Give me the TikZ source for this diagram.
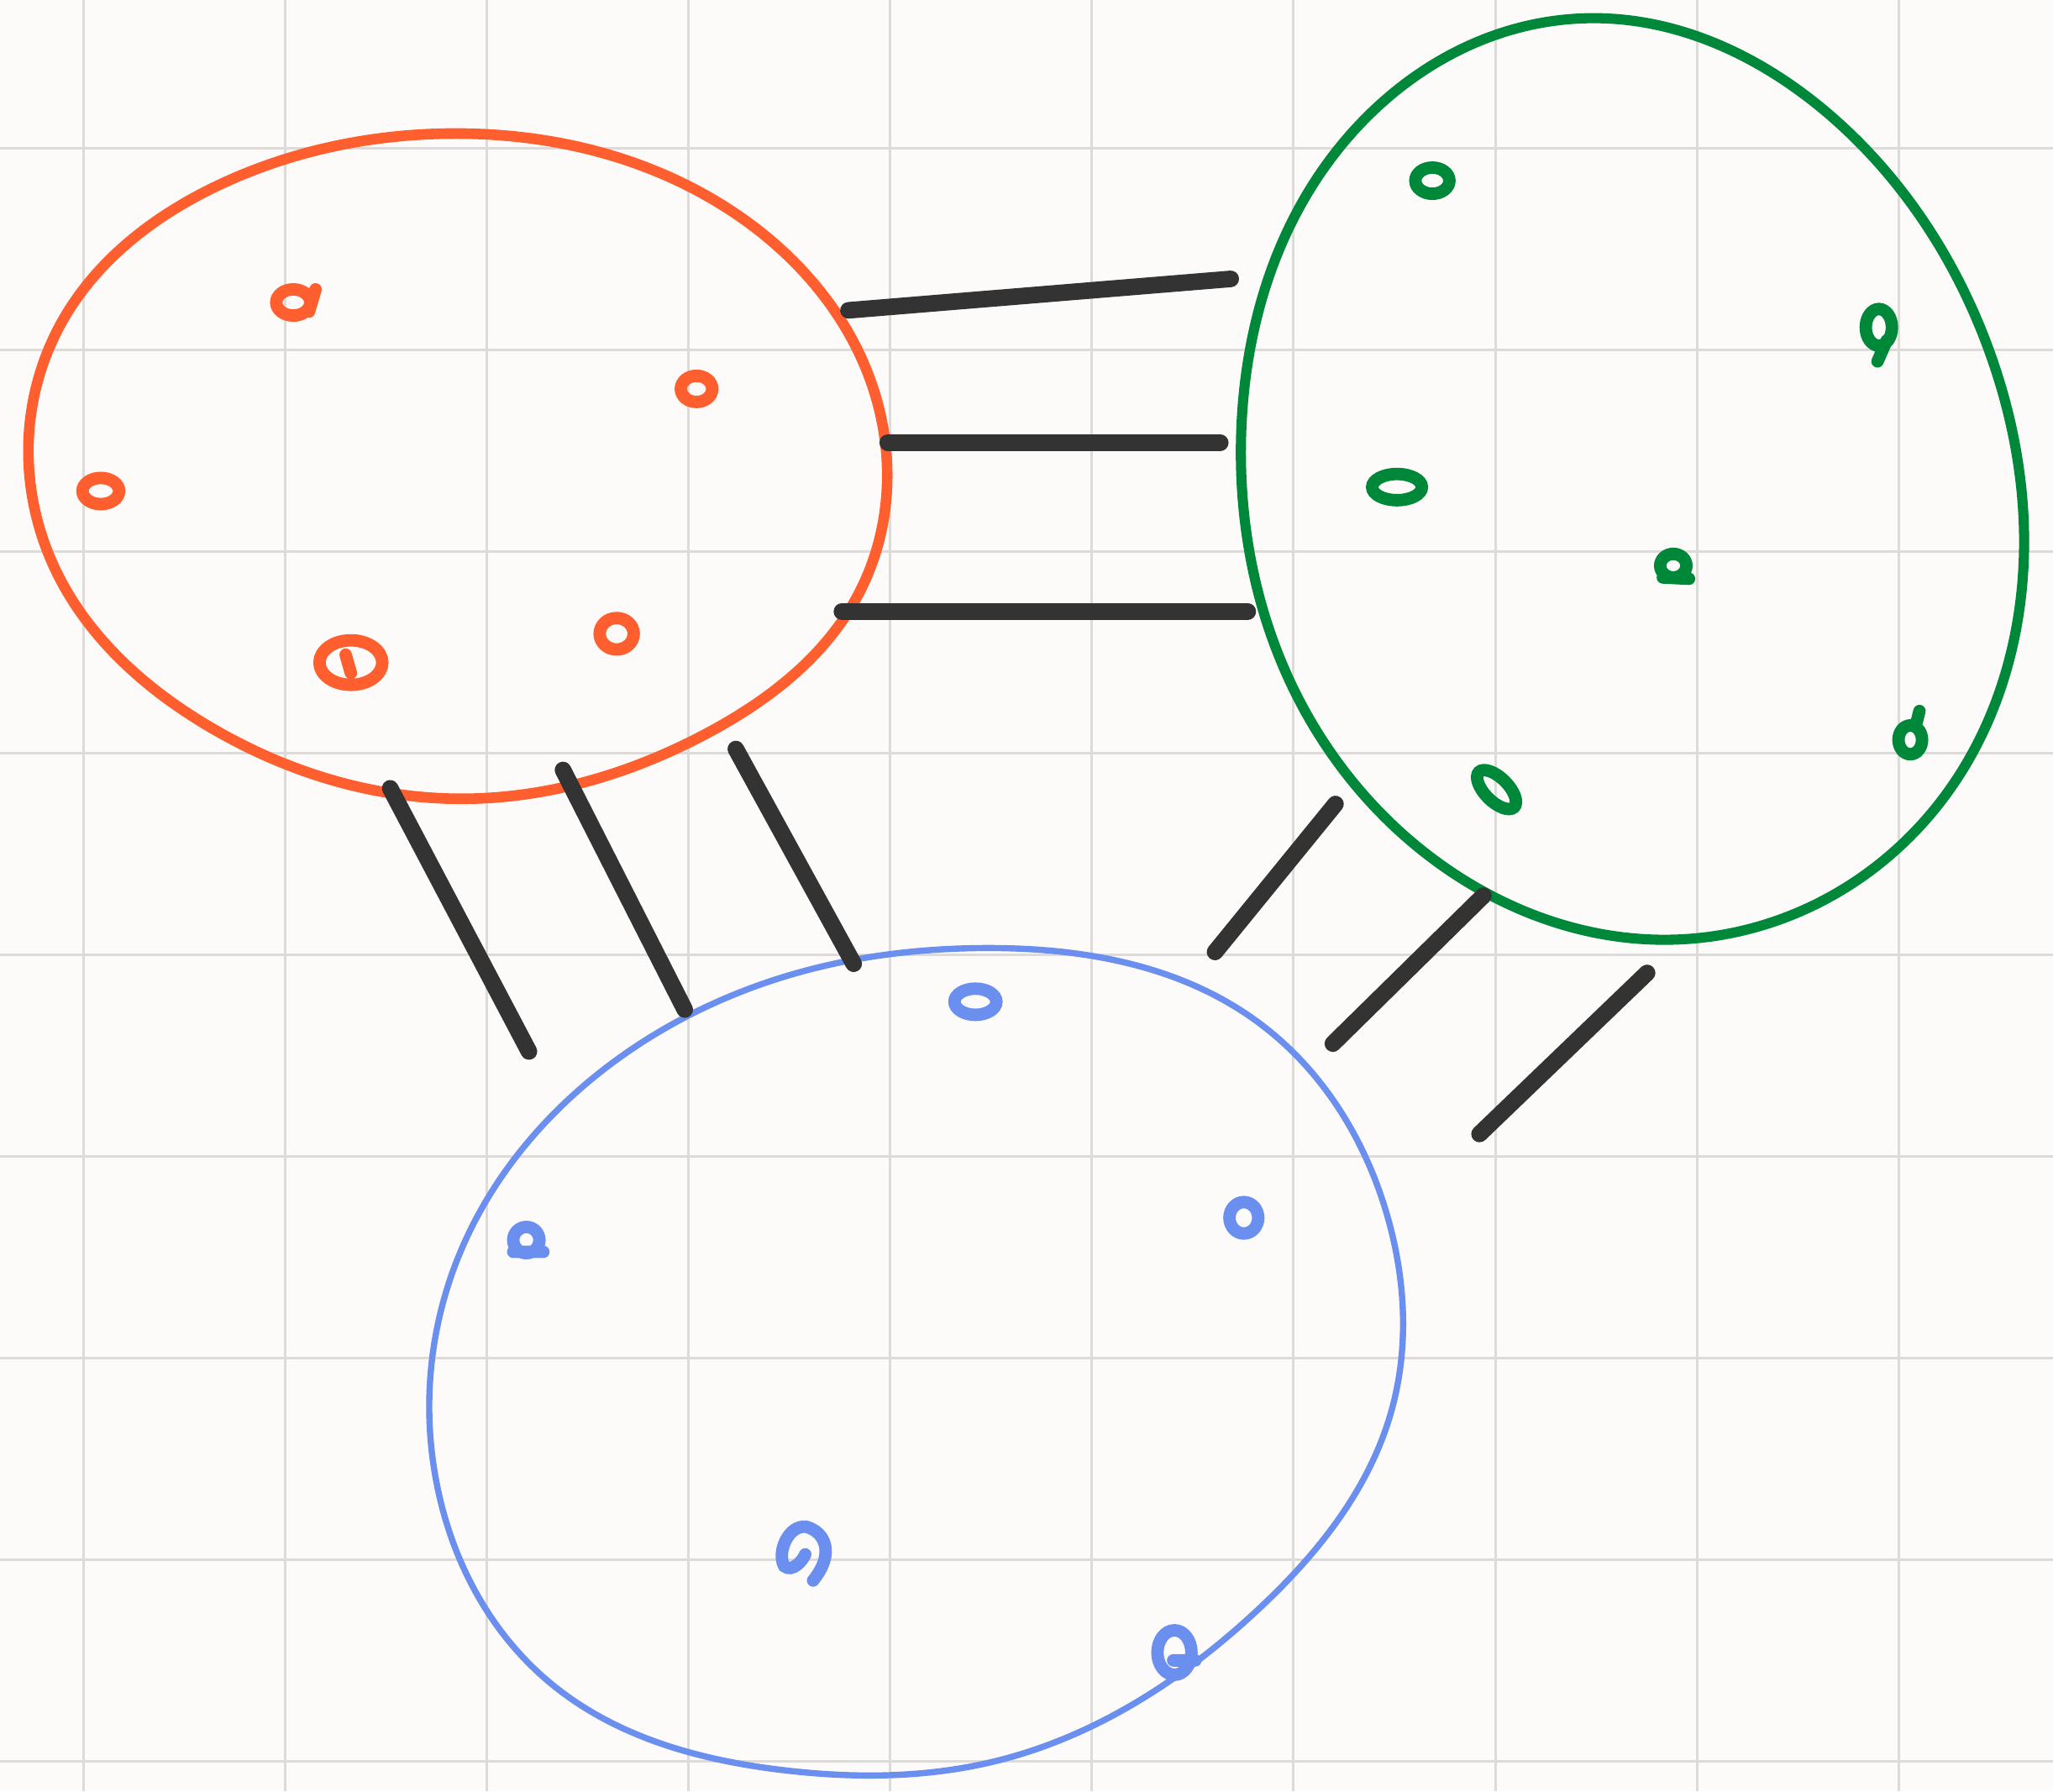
\documentclass[tikz,border=0pt]{standalone}
\usepackage{tikz}
\usetikzlibrary{positioning,calc,hobby}

\definecolor{paper}{HTML}{FDFBF9}
\definecolor{gridgray}{HTML}{DDDAD7}
\definecolor{setorange}{HTML}{FF5F2E}
\definecolor{setgreen}{HTML}{00883A}
\definecolor{setblue}{HTML}{6A8FEF}
\definecolor{ink}{HTML}{333333}

\tikzset{
	gridline/.style={gridgray, line width=0.55pt},
	orangeset/.style={setorange, line width=2.3pt, use Hobby shortcut, closed=true},
	greenset/.style={setgreen, line width=2.2pt, use Hobby shortcut, closed=true},
	blueset/.style={setblue, line width=1.35pt, use Hobby shortcut, closed=true},
	link/.style={ink, line width=3.6pt, line cap=round},
	dot/.style={line width=2.7pt, line cap=round}
}

\begin{document}
\begin{tikzpicture}[x=0.01cm, y=-0.01cm]
	% paper and grid
	\fill[paper] (0,0) rectangle (1568,1368);
	\useasboundingbox (0,0) rectangle (1568,1368);
	\foreach \x in {64,218,372,526,680,834,988,1142,1296,1450}
		\draw[gridline] (\x,0) -- (\x,1368);
	\foreach \y in {113,267,421,575,729,883,1037,1191,1345}
		\draw[gridline] (0,\y) -- (1568,\y);

	% the three sets
	\draw[orangeset] (345,102) .. (560,162) .. (668,300) .. (655,455) .. (540,560) .. (350,610) .. (160,555) .. (40,430) .. (45,250) .. (170,140);
	\draw[greenset] (1210,14) .. (1400,90) .. (1520,270) .. (1545,440) .. (1480,615) .. (1290,717) .. (1100,660) .. (985,520) .. (948,330) .. (1010,130);
	\draw[blueset] (750,724) .. (960,780) .. (1060,930) .. (1062,1080) .. (960,1230) .. (760,1345) .. (600,1352) .. (420,1285) .. (335,1140) .. (350,960) .. (470,810) .. (620,740);

	% elements
	\draw[setorange, dot] (224,231) ellipse [x radius=13, y radius=10] (236,238) -- (241,221);
	\draw[setorange, dot] (532,297) ellipse [x radius=12, y radius=10];
	\draw[setorange, dot] (77,375) ellipse [x radius=14, y radius=10];
	\draw[setorange, dot] (268,506) ellipse [x radius=24, y radius=17] (268,514) -- (264,500);
	\draw[setorange, dot] (471,484) ellipse [x radius=13, y radius=12];
	\draw[setgreen, dot] (1094,138) ellipse [x radius=13, y radius=10];
	\draw[setgreen, dot] (1435,250) ellipse [x radius=10, y radius=14] (1441,260) -- (1434,276);
	\draw[setgreen, dot] (1067,372) ellipse [x radius=19, y radius=10];
	\draw[setgreen, dot] (1278,432) ellipse [x radius=10, y radius=9] (1270,441) -- (1290,442);
	\draw[setgreen, dot, rotate around={-45:(1143,603)}] (1143,603) ellipse [x radius=19, y radius=9];
	\draw[setgreen, dot] (1459,565) ellipse [x radius=9, y radius=11] (1463,555) -- (1466,543);
	\draw[setblue, dot] (745,765) ellipse [x radius=16, y radius=10];
	\draw[setblue, dot] (402,947) ellipse [x radius=10, y radius=10] (392,956) -- (415,956);
	\draw[setblue, dot] (950,930) ellipse [x radius=11, y radius=12];
	\draw[setblue, dot] (621,1207) .. controls (638,1186) and (630,1170) .. (616,1166) .. controls (602,1164) and (593,1186) .. (599,1196) .. controls (605,1201) and (613,1192) .. (615,1187);
	\draw[setblue, dot] (897,1262) ellipse [x radius=13, y radius=17] (896,1268) -- (913,1268);

	% links between sets
	\coordinate (og1) at (648,237);  \coordinate (go1) at (940,213);
	\coordinate (og2) at (678,338);  \coordinate (go2) at (932,338);
	\coordinate (og3) at (643,467);  \coordinate (go3) at (953,467);
	\coordinate (ob1) at (298,602);  \coordinate (bo1) at (404,803);
	\coordinate (ob2) at (430,588);  \coordinate (bo2) at (523,771);
	\coordinate (ob3) at (562,572);  \coordinate (bo3) at (652,736);
	\coordinate (gb1) at (1020,614); \coordinate (bg1) at (928,727);
	\coordinate (gb2) at (1133,684); \coordinate (bg2) at (1018,797);
	\coordinate (gb3) at (1258,743); \coordinate (bg3) at (1130,866);
	\draw[link] (og1) -- (go1);
	\draw[link] (og2) -- (go2);
	\draw[link] (og3) -- (go3);
	\draw[link] (ob1) -- (bo1);
	\draw[link] (ob2) -- (bo2);
	\draw[link] (ob3) -- (bo3);
	\draw[link] (gb1) -- (bg1);
	\draw[link] (gb2) -- (bg2);
	\draw[link] (gb3) -- (bg3);
\end{tikzpicture}
\end{document}
